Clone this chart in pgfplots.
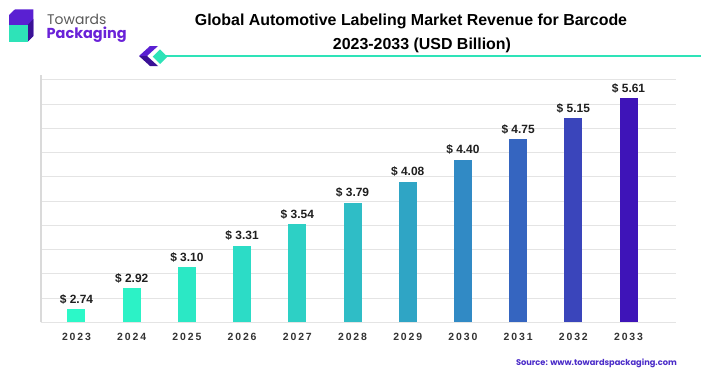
\documentclass[border=0pt]{standalone}
\usepackage{pgfplots}
\pgfplotsset{compat=1.18}
\usepackage{fontspec}
\setmainfont{Liberation Sans}
\newfontfamily\pop{Poppins}
\newfontfamily\tickfont[LetterSpace=18]{Liberation Sans}
\definecolor{c0}{HTML}{2CF8C8}
\definecolor{c1}{HTML}{2CF2C6}
\definecolor{c2}{HTML}{2BE8C5}
\definecolor{c3}{HTML}{2CDCC6}
\definecolor{c4}{HTML}{2DD0C5}
\definecolor{c5}{HTML}{2FBDC6}
\definecolor{c6}{HTML}{2FA5C5}
\definecolor{c7}{HTML}{318AC5}
\definecolor{c8}{HTML}{3565C0}
\definecolor{c9}{HTML}{3A45BB}
\definecolor{c10}{HTML}{3E14B8}
\definecolor{gridgray}{HTML}{E4E4E4}
\definecolor{axisgray}{HTML}{DADADA}
\definecolor{tickgray}{HTML}{333333}
\definecolor{logopurple}{HTML}{6A22D8}
\definecolor{cubepurple}{HTML}{5A20D2}
\definecolor{cubedark}{HTML}{3A1196}
\definecolor{logoteal}{HTML}{2EE3B8}
\definecolor{srcpurple}{HTML}{4A2BC8}
\begin{document}
\begin{tikzpicture}[x=1bp,y=1bp]
\path[use as bounding box] (0,0) rectangle (701,376);
% logo
\fill[cubepurple] (9,361) -- (15,366.7) -- (33.3,366.7) -- (33.3,340) -- (27.7,334.3) -- (27.7,351) -- (9,351) -- cycle;
\fill[cubedark] (27.7,351) -- (33.3,357) -- (33.3,340) -- (27.7,334.3) -- cycle;
\fill[logoteal] (9,334.3) rectangle (27.7,351);
\node[anchor=base west, inner sep=0pt, font=\pop\fontsize{14}{16}\selectfont, text=black!65] at (47,352) {Towards};
\node[anchor=base west, inner sep=0pt, font=\pop\bfseries\fontsize{14.5}{16}\selectfont, text=logopurple] at (46.5,337.7) {Packaging};
% decoration
\draw[logoteal, line width=1.5bp] (166,320) -- (701,320);
\fill[cubepurple] (139,320) -- (150,330) -- (158,330) -- (147,320) -- cycle;
\fill[cubedark] (139,320) -- (150,310) -- (158,310) -- (147,320) -- cycle;
\fill[logoteal] (152.7,319.3) -- (160,326.6) -- (167.3,319.3) -- (160,312) -- cycle;
% title
\node[anchor=base, inner sep=0pt, font=\bfseries\fontsize{16}{19}\selectfont] at (411,350.3) {Global Automotive Labeling Market Revenue for Barcode};
\node[anchor=base, inner sep=0pt, font=\bfseries\fontsize{16}{19}\selectfont] at (422,326.5) {2023-2033 (USD Billion)};
% source
\node[anchor=base east, inner sep=0pt, font=\pop\bfseries\fontsize{8.3}{10}\selectfont, text=srcpurple] at (677,11) {Source: www.towardspackaging.com};
\begin{axis}[
  at={(41bp,53.7bp)}, anchor=south west,
  scale only axis, width=635bp, height=242.3bp,
  xmin=-0.643, xmax=10.86, ymin=0, ymax=10,
  xtick={0,...,10},
  xticklabels={2023,2024,2025,2026,2027,2028,2029,2030,2031,2032,2033},
  xticklabel style={font=\tickfont\bfseries\fontsize{10.5}{12}\selectfont, text=tickgray, anchor=base, yshift=-18bp},
  ytick={0,...,10}, yticklabels={},
  ymajorgrids, grid style={draw=gridgray, line width=1bp},
  axis line style={draw=none}, tick style={draw=none},
  clip=false,
  mybar/.style={ybar, bar width=18bp, bar shift=0pt, draw=none, fill=#1,
    nodes near coords, point meta=explicit symbolic,
    every node near coord/.append style={font=\bfseries\fontsize{12}{14}\selectfont, text=black!88, anchor=base, yshift=6bp, inner sep=0pt}},
]
\addplot[mybar=c0] coordinates {(0,0.54) [\$ 2.74]};
\addplot[mybar=c1] coordinates {(1,1.40) [\$ 2.92]};
\addplot[mybar=c2] coordinates {(2,2.27) [\$ 3.10]};
\addplot[mybar=c3] coordinates {(3,3.16) [\$ 3.31]};
\addplot[mybar=c4] coordinates {(4,4.04) [\$ 3.54]};
\addplot[mybar=c5] coordinates {(5,4.94) [\$ 3.79]};
\addplot[mybar=c6] coordinates {(6,5.80) [\$ 4.08]};
\addplot[mybar=c7] coordinates {(7,6.70) [\$ 4.40]};
\addplot[mybar=c8] coordinates {(8,7.55) [\$ 4.75]};
\addplot[mybar=c9] coordinates {(9,8.42) [\$ 5.15]};
\addplot[mybar=c10] coordinates {(10,9.24) [\$ 5.61]};
\end{axis}
\draw[axisgray, line width=1.6bp] (41,53.7) -- (41,301);
\end{tikzpicture}
\end{document}
